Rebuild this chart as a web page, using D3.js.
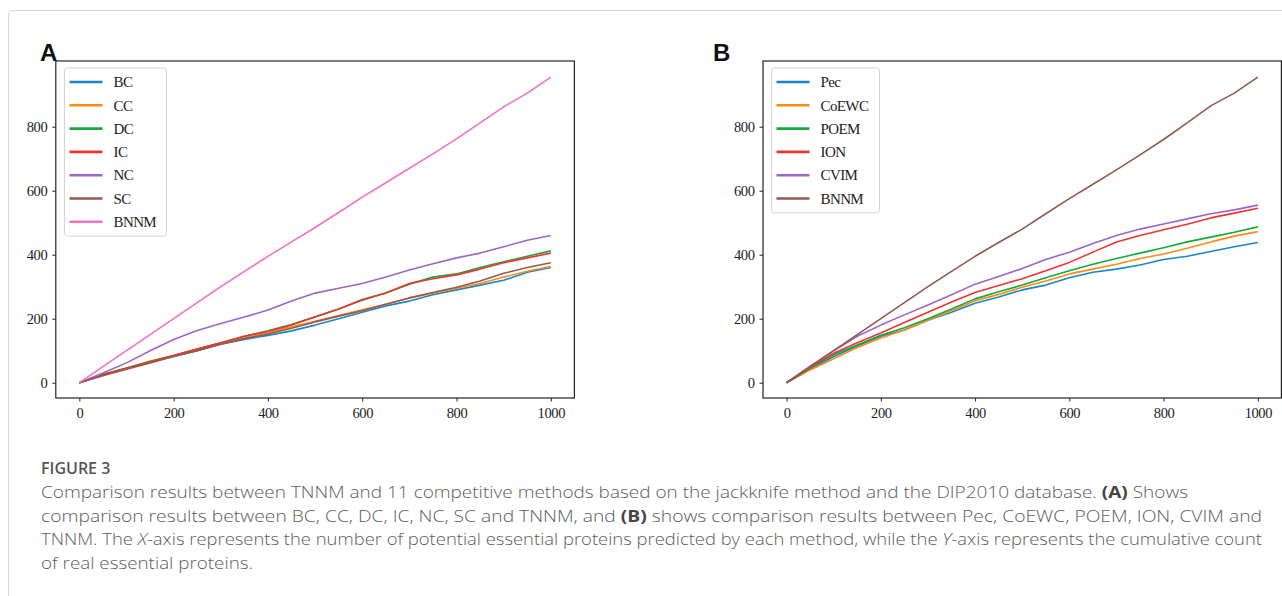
<!DOCTYPE html>
<html>
<head>
<meta charset="utf-8">
<script src="https://cdn.jsdelivr.net/npm/d3@7"></script>
<style>
    body { margin: 0; background: #fff; }
    svg { display: block; }
</style>
</head>
<body>
<svg id="chart" width="1282" height="596"></svg>
<script>
// x positions (number of predicted proteins)
const xSteps = [0, 50, 100, 150, 200, 250, 300, 350, 400, 450, 500, 550, 600, 650, 700, 750, 800, 850, 900, 950, 1000];

// panel A series
const bcA = [0, 25, 45, 65, 82, 100, 120, 135, 148, 162, 180, 200, 220, 240, 255, 275, 290, 305, 320, 345, 360];
const ccA = [0, 25, 45, 68, 85, 105, 122, 140, 155, 175, 192, 210, 228, 245, 265, 280, 295, 310, 330, 348, 363];
const dcA = [0, 26, 46, 66, 85, 105, 125, 145, 162, 182, 206, 230, 258, 280, 308, 330, 340, 360, 378, 395, 412];
const icA = [0, 25, 45, 65, 85, 105, 125, 145, 160, 180, 205, 230, 260, 280, 310, 325, 337, 355, 375, 390, 405];
const ncA = [0, 30, 62, 100, 135, 163, 185, 205, 227, 255, 280, 295, 310, 330, 352, 372, 390, 405, 425, 445, 460];
const scA = [0, 22, 42, 62, 82, 100, 120, 138, 152, 170, 190, 208, 225, 245, 265, 282, 298, 318, 342, 360, 375];
const bnnmA = [0, 50, 100, 150, 200, 250, 300, 348, 395, 440, 485, 532, 580, 625, 670, 715, 762, 812, 862, 905, 955];

// panel B series
const pecB = [0, 42, 82, 115, 145, 165, 195, 220, 248, 268, 290, 305, 328, 345, 355, 368, 385, 395, 410, 425, 438];
const coewcB = [0, 40, 75, 110, 140, 165, 195, 225, 256, 276, 298, 318, 340, 355, 370, 388, 402, 420, 440, 458, 472];
const poemB = [0, 45, 88, 118, 148, 172, 200, 230, 262, 284, 305, 328, 350, 370, 388, 405, 422, 440, 455, 470, 487];
const ionB = [0, 48, 92, 125, 155, 188, 220, 252, 282, 304, 325, 350, 376, 408, 440, 460, 478, 495, 515, 530, 545];
const cvimB = [0, 52, 100, 145, 180, 212, 243, 275, 308, 332, 357, 385, 408, 435, 460, 480, 496, 512, 528, 540, 555];
const bnnmB = [0, 50, 100, 150, 200, 250, 300, 348, 395, 438, 480, 528, 575, 620, 665, 712, 760, 812, 865, 905, 955];

const xTicks = [0, 200, 400, 600, 800, 1000];
const yTicks = [0, 200, 400, 600, 800];

const namesA = ["BC", "CC", "DC", "IC", "NC", "SC", "BNNM"];
const namesB = ["Pec", "CoEWC", "POEM", "ION", "CVIM", "BNNM"];

const colors = ["#1a86c8", "#ff8a14", "#14a83e", "#f5322f", "#9d64c9", "#94584c", "#f56fc8"];

const svg = d3.select("#chart");

// outer frame of the figure
svg.append("rect")
    .attr("x", 8.5).attr("y", 10.5)
    .attr("width", 1400).attr("height", 700)
    .attr("rx", 4)
    .attr("fill", "none")
    .attr("stroke", "#d6d6d6");

function drawPanel(opts) {
    const x = d3.scaleLinear().domain([-50, 1050]).range([opts.left, opts.right]);
    const y = d3.scaleLinear().domain([-47.8, 1005.3]).range([398, 61]);

    const g = svg.append("g");

    const line = d3.line()
        .x((d, i) => x(xSteps[i]))
        .y(d => y(d));

    g.append("defs").append("clipPath").attr("id", "clip" + opts.label)
        .append("rect")
        .attr("x", opts.left).attr("y", 61)
        .attr("width", opts.right - opts.left).attr("height", 337);

    g.append("g").attr("clip-path", "url(#clip" + opts.label + ")")
        .selectAll("path")
        .data(opts.series)
        .enter().append("path")
        .attr("d", d => line(d))
        .attr("fill", "none")
        .attr("stroke", (d, i) => opts.colors[i])
        .attr("stroke-width", 1.6)
        .attr("stroke-linejoin", "round");

    // axes
    const xAxis = g.append("g")
        .attr("transform", "translate(0,398)")
        .call(d3.axisBottom(x).tickValues(xTicks).tickSize(3.5).tickPadding(6).tickFormat(d3.format("d")));
    const yAxis = g.append("g")
        .attr("transform", "translate(" + opts.left + ",0)")
        .call(d3.axisLeft(y).tickValues(yTicks).tickSize(3.5).tickPadding(5).tickFormat(d3.format("d")));

    [xAxis, yAxis].forEach(a => {
        a.select(".domain").remove();
        a.selectAll("line").attr("stroke", "#222").attr("stroke-width", 1);
        a.selectAll("text")
            .attr("fill", "#222")
            .style("font-family", "'Liberation Serif', 'DejaVu Serif', serif")
            .style("font-size", "14.5px")
            .style("letter-spacing", "-0.4px");
    });

    g.append("rect")
        .attr("x", opts.left).attr("y", 61)
        .attr("width", opts.right - opts.left).attr("height", 337)
        .attr("fill", "none")
        .attr("stroke", "#222")
        .attr("stroke-width", 1.2);

    // legend
    const lg = g.append("g");
    lg.append("rect")
        .attr("x", opts.legend.x).attr("y", 68)
        .attr("width", opts.legend.w).attr("height", opts.names.length * 23.3 + 5)
        .attr("rx", 3)
        .attr("fill", "#fff")
        .attr("fill-opacity", 0.9)
        .attr("stroke", "#d4d4d4");

    const items = lg.selectAll("g.item")
        .data(opts.names)
        .enter().append("g")
        .attr("transform", (d, i) => "translate(0," + (82 + i * 23.3) + ")");

    items.append("line")
        .attr("x1", opts.legend.x + 5).attr("x2", opts.legend.x + 38)
        .attr("stroke", (d, i) => opts.colors[i])
        .attr("stroke-width", 2.6);

    items.append("text")
        .attr("x", opts.legend.x + 49)
        .attr("dy", "0.35em")
        .attr("fill", "#222")
        .style("font-family", "'Liberation Serif', 'DejaVu Serif', serif")
        .style("font-size", "15px")
        .style("letter-spacing", "-0.6px")
        .text(d => d);

    // panel letter
    svg.append("text")
        .attr("x", opts.labelX).attr("y", 61)
        .attr("fill", "#111")
        .style("font-family", "'Liberation Sans', Arial, sans-serif")
        .style("font-weight", "bold")
        .style("font-size", "24px")
        .text(opts.label);
}

drawPanel({
    label: "A", labelX: 40,
    left: 55.8, right: 574.4,
    series: [bcA, ccA, dcA, icA, ncA, scA, bnnmA],
    names: namesA,
    colors: colors,
    legend: { x: 64.5, w: 102 }
});

drawPanel({
    label: "B", labelX: 713,
    left: 763, right: 1281.4,
    series: [pecB, coewcB, poemB, ionB, cvimB, bnnmB],
    names: namesB,
    colors: colors.slice(0, 6),
    legend: { x: 771.5, w: 108 }
});

// caption
const capFont = "'Open Sans', 'Noto Sans', sans-serif";
svg.append("text")
    .attr("x", 41).attr("y", 474)
    .attr("fill", "#555")
    .style("font-family", capFont)
    .style("font-weight", 600)
    .style("font-size", "16px")
    .text("FIGURE 3");

const captionLines = [
    [["Comparison results between TNNM and 11 competitive methods based on the jackknife method and the DIP2010 database. ", ""], ["(A)", "b"], [" Shows", ""]],
    [["comparison results between BC, CC, DC, IC, NC, SC and TNNM, and ", ""], ["(B)", "b"], [" shows comparison results between Pec, CoEWC, POEM, ION, CVIM and", ""]],
    [["TNNM. The ", ""], ["X", "i"], ["-axis represents the number of potential essential proteins predicted by each method, while the ", ""], ["Y", "i"], ["-axis represents the cumulative count", ""]],
    [["of real essential proteins.", ""]]
];
const captionWidths = [1147, 1221, 1221, 212];

captionLines.forEach((parts, i) => {
    const t = svg.append("text")
        .attr("x", 41).attr("y", 498 + i * 23.5)
        .attr("fill", "#5c5c5c")
        .attr("textLength", captionWidths[i])
        .attr("lengthAdjust", "spacingAndGlyphs")
        .style("font-family", capFont)
        .style("font-weight", 300)
        .style("font-size", "15.5px");
    parts.forEach(p => {
        t.append("tspan")
            .style("font-weight", p[1] === "b" ? 700 : 300)
            .style("font-style", p[1] === "i" ? "italic" : "normal")
            .attr("fill", p[1] === "b" ? "#444" : "#5c5c5c")
            .text(p[0]);
    });
});
</script>
</body>
</html>
